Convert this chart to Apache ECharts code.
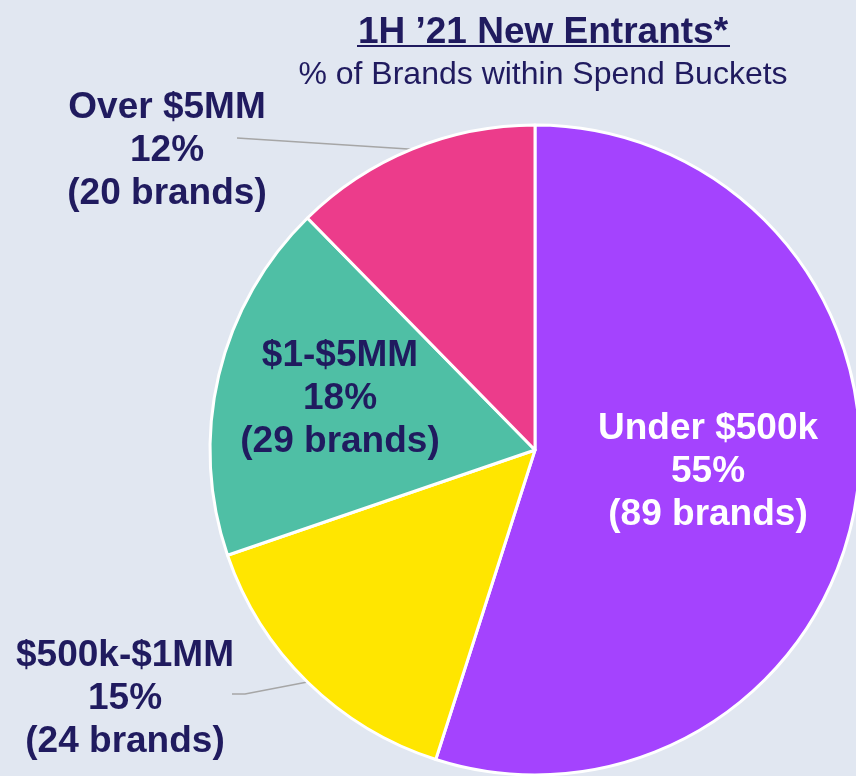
<!DOCTYPE html>
<html>
<head>
<meta charset="utf-8">
<script src="https://cdn.jsdelivr.net/npm/echarts@6/dist/echarts.min.js"></script>
<style>
	html, body { margin: 0; padding: 0; background: #E1E7F1; }
	#chart { width: 856px; height: 776px; }
</style>
</head>
<body>
<div id="chart"></div>
<script>
var categories = ['Under $500k', '$500k-$1MM', '$1-$5MM', 'Over $5MM'];
var brandCounts = [89, 24, 29, 20];
var sliceColors = ['#A443FE', '#FFE600', '#4FBFA5', '#EC3C8B'];
var labelColors = ['#FFFFFF', '#201B5F', '#201B5F', '#201B5F'];

// where the label blocks sit (centre of text), and the end of the leader lines
var labelPos = [[708, 472], [125, 699], [340, 399], [167, 151]];
var lineEnds = {
	1: [[245, 694], [232, 694]],
	3: [[237, 138], [237, 138]]
};

var myChart = echarts.init(document.getElementById('chart'));

var pieData = [];
for (var i = 0; i < categories.length; i++) {
	var outside = !!lineEnds[i];
	pieData.push({
		name: categories[i],
		value: brandCounts[i],
		itemStyle: { color: sliceColors[i] },
		label: {
			position: outside ? 'outside' : 'inside',
			color: labelColors[i]
		},
		labelLine: { show: outside }
	});
}

var option = {
	backgroundColor: '#E1E7F1',
	title: {
		text: '1H \u201921 New Entrants*',
		subtext: '% of Brands within Spend Buckets',
		left: 538,
		top: 9,
		textAlign: 'center',
		itemGap: 8,
		textStyle: {
			fontFamily: 'Liberation Sans, Arial, sans-serif',
			fontSize: 37,
			fontWeight: 'bold',
			color: '#201B5F'
		},
		subtextStyle: {
			fontFamily: 'Liberation Sans, Arial, sans-serif',
			fontSize: 32,
			color: '#201B5F'
		}
	},
	graphic: [{
		type: 'line',
		shape: { x1: 357, y1: 46, x2: 730, y2: 46 },
		style: { stroke: '#201B5F', lineWidth: 2 }
	}],
	series: [{
		type: 'pie',
		center: [535, 450],
		radius: 325,
		startAngle: 90,
		clockwise: true,
		percentPrecision: 0,
		avoidLabelOverlap: false,
		silent: true,
		itemStyle: { borderColor: '#FFFFFF', borderWidth: 3 },
		label: {
			formatter: '{b}\n{d}%\n({c} brands)',
			fontFamily: 'Liberation Sans, Arial, sans-serif',
			fontSize: 37,
			fontWeight: 'bold',
			lineHeight: 43,
			align: 'center'
		},
		labelLine: {
			length: 10,
			length2: 10,
			lineStyle: { color: '#A6A6A6', width: 1.5 }
		},
		labelLayout: function (params) {
			var p = labelPos[params.dataIndex];
			var out = { x: p[0], y: p[1], align: 'center', verticalAlign: 'middle' };
			var ends = lineEnds[params.dataIndex];
			if (ends && params.labelLinePoints) {
				out.labelLinePoints = [params.labelLinePoints[0], ends[0], ends[1]];
			}
			return out;
		},
		data: pieData
	}]
};

myChart.setOption(option);
</script>
</body>
</html>
